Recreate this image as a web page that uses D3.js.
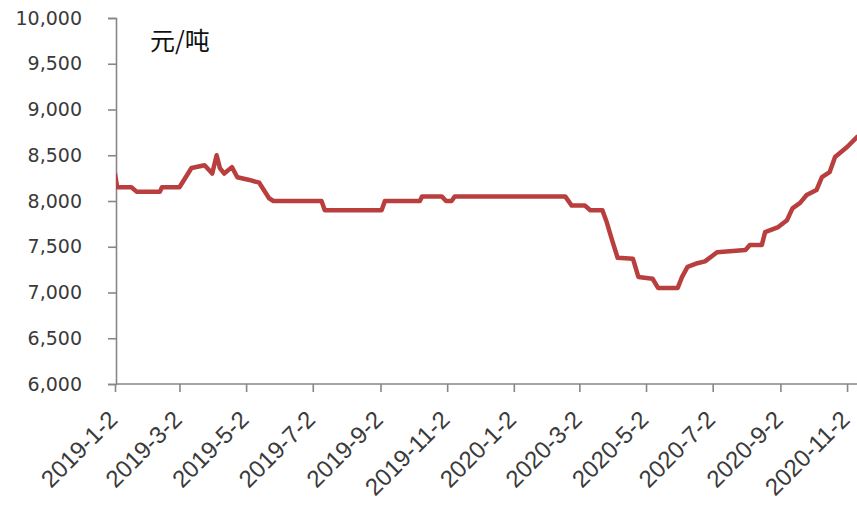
<!DOCTYPE html>
<html>
<head>
<meta charset="utf-8">
<script src="https://cdn.jsdelivr.net/npm/d3@7"></script>
<style>
  body { margin: 0; background: #fff; }
</style>
</head>
<body>
<div id="chart"></div>
<script>
// price series (vertices of the line)
const dates = [
  "2019-01-02", "2019-01-04", "2019-01-17", "2019-01-22", "2019-02-12", "2019-02-14",
  "2019-03-02", "2019-03-13", "2019-03-25", "2019-04-01", "2019-04-05", "2019-04-08",
  "2019-04-12", "2019-04-19", "2019-04-24", "2019-05-05", "2019-05-14", "2019-05-23",
  "2019-05-27", "2019-07-10", "2019-07-13", "2019-09-03", "2019-09-06", "2019-10-08",
  "2019-10-10", "2019-10-28", "2019-11-01", "2019-11-06", "2019-11-09", "2020-02-18",
  "2020-02-24", "2020-03-07", "2020-03-12", "2020-03-23", "2020-03-27", "2020-04-01",
  "2020-04-06", "2020-04-20", "2020-04-25", "2020-05-08", "2020-05-13", "2020-05-31",
  "2020-06-04", "2020-06-09", "2020-06-18", "2020-06-25", "2020-07-06", "2020-08-01",
  "2020-08-05", "2020-08-16", "2020-08-19", "2020-08-31", "2020-09-08", "2020-09-13",
  "2020-09-20", "2020-09-26", "2020-10-05", "2020-10-10", "2020-10-17", "2020-10-22",
  "2020-11-02", "2020-11-12"
];
const prices = [
  8300, 8150, 8150, 8100, 8100, 8150,
  8150, 8360, 8390, 8300, 8500, 8360,
  8300, 8370, 8260, 8230, 8200, 8030,
  8000, 8000, 7900, 7900, 8000, 8000,
  8050, 8050, 8000, 8000, 8050, 8050,
  7950, 7950, 7900, 7900, 7770, 7570,
  7380, 7370, 7170, 7150, 7050, 7050,
  7170, 7280, 7320, 7340, 7440, 7465,
  7520, 7520, 7660, 7715, 7790, 7920,
  7980, 8065, 8120, 8260, 8315, 8480,
  8590, 8710
];

const tickDates = [
  "2019-01-02", "2019-03-02", "2019-05-02", "2019-07-02", "2019-09-02", "2019-11-02",
  "2020-01-02", "2020-03-02", "2020-05-02", "2020-07-02", "2020-09-02", "2020-11-02"
];
const tickLabels = [
  "2019-1-2", "2019-3-2", "2019-5-2", "2019-7-2", "2019-9-2", "2019-11-2",
  "2020-1-2", "2020-3-2", "2020-5-2", "2020-7-2", "2020-9-2", "2020-11-2"
];
const yTicks = [6000, 6500, 7000, 7500, 8000, 8500, 9000, 9500, 10000];
const unitLabel = "元/吨";

const parse = d3.timeParse("%Y-%m-%d");

let width = 857;
let height = 518;
let plotLeft = 116, plotTop = 18, plotBottom = 384, plotRight = 857;

var svg = d3.select("#chart").append("svg")
    .attr("width", width)
    .attr("height", height);

svg.append("rect").attr("width", width).attr("height", height).attr("fill", "#fff");

// scalers
const scaleX = d3.scaleTime()
      .domain([parse("2019-01-02"), parse("2020-11-12")])
      .range([115, 858]);
const scaleY = d3.scaleLinear()
      .domain([6000, 10000])
      .range([plotBottom, plotTop]);

const axisColor = "#878787";
const textColor = "#3a3a3a";

// clip so the line stops at the right edge like the picture
svg.append("clipPath").attr("id", "plot")
    .append("rect")
    .attr("x", plotLeft).attr("y", 0)
    .attr("width", plotRight - plotLeft).attr("height", plotBottom);

// y axis
let yAxis = svg.append("g")
    .attr("transform", `translate(${plotLeft},0)`)
    .call(d3.axisLeft(scaleY)
          .tickValues(yTicks)
          .tickSize(8)
          .tickPadding(26)
          .tickFormat(d3.format(",")));
yAxis.select(".domain").attr("stroke", axisColor).attr("stroke-width", 1.6);
yAxis.selectAll(".tick line").attr("stroke", axisColor).attr("stroke-width", 1.6);
yAxis.selectAll(".tick text")
    .attr("fill", textColor)
    .style("font-family", "'DejaVu Sans', Verdana, sans-serif")
    .style("font-size", "19px");

// x axis, labels drawn by hand so they can be turned
let xAxis = svg.append("g")
    .attr("transform", `translate(0,${plotBottom})`)
    .call(d3.axisBottom(scaleX)
          .tickValues(tickDates.map(parse))
          .tickSize(8)
          .tickFormat(""));
xAxis.select(".domain")
    .attr("d", `M${plotLeft},0H${plotRight}`)
    .attr("stroke", axisColor).attr("stroke-width", 1.6);
xAxis.selectAll(".tick line").attr("stroke", axisColor).attr("stroke-width", 1.6);

svg.append("g")
    .selectAll("text")
    .data(tickDates)
    .join("text")
    .attr("transform", (d) => `translate(${scaleX(parse(d)) + 4},${plotBottom + 37}) rotate(-45)`)
    .attr("text-anchor", "end")
    .attr("fill", textColor)
    .style("font-family", "'Liberation Sans', Arial, sans-serif")
    .style("font-size", "24px")
    .text((d, i) => tickLabels[i]);

// the price line
const line = d3.line()
      .x((d) => scaleX(parse(d)))
      .y((d, i) => scaleY(prices[i]));

svg.append("path")
    .datum(dates)
    .attr("clip-path", "url(#plot)")
    .attr("d", line)
    .attr("fill", "none")
    .attr("stroke", "#b93f3e")
    .attr("stroke-width", 4.5)
    .attr("stroke-linejoin", "round");

// unit
svg.append("text")
    .attr("x", 150)
    .attr("y", 50)
    .attr("fill", "#111")
    .style("font-family", "'Noto Sans CJK SC', sans-serif")
    .style("font-size", "25px")
    .text(unitLabel);
</script>
</body>
</html>
